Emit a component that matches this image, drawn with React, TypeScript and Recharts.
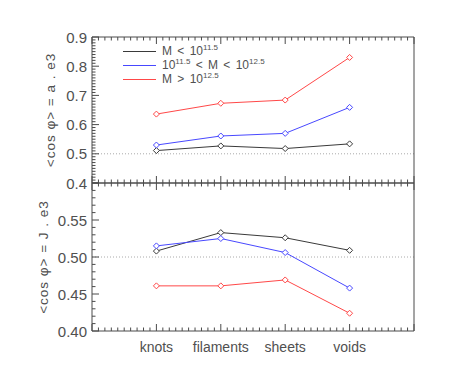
import { Legend, Line, LineChart, ReferenceLine, XAxis, YAxis } from "recharts";

// ── data ─────────────────────────────────────────────────────────
const categories = ["knots", "filaments", "sheets", "voids"];
const categoryPos = [1, 2, 3, 4];

// <cos phi> = a . e3 (upper panel)
const aLowMass = [0.511, 0.527, 0.518, 0.534];
const aMidMass = [0.53, 0.561, 0.57, 0.659];
const aHighMass = [0.636, 0.673, 0.684, 0.83];

// <cos phi> = J . e3 (lower panel)
const jLowMass = [0.508, 0.533, 0.526, 0.509];
const jMidMass = [0.515, 0.525, 0.506, 0.458];
const jHighMass = [0.461, 0.461, 0.469, 0.424];

const upperYLabels = ["0.4", "0.5", "0.6", "0.7", "0.8", "0.9"];
const lowerYLabels = ["0.40", "0.45", "0.50", "0.55"];

// ── style ────────────────────────────────────────────────────────
const FONT = '"Liberation Sans", Arial, Helvetica, sans-serif';
const TEXT_COLOR = "#505050";
const AXIS_COLOR = "#4a4a4a";
const BLACK = "#3a3a3a";
const BLUE = "#4848ff";
const RED = "#ff4848";

const rows = categories.map((name, i) => ({
	name,
	x: categoryPos[i],
	aLow: aLowMass[i],
	aMid: aMidMass[i],
	aHigh: aHighMass[i],
	jLow: jLowMass[i],
	jMid: jMidMass[i],
	jHigh: jHighMass[i],
}));

const legendItems = [
	{ color: BLACK, parts: [{ t: "M < 10" }, { sup: "11.5" }] },
	{ color: BLUE, parts: [{ t: "10" }, { sup: "11.5" }, { t: " < M < 10" }, { sup: "12.5" }] },
	{ color: RED, parts: [{ t: "M > 10" }, { sup: "12.5" }] },
];

/** evenly stepped tick values (axis only, not data) */
function stepTicks(from: number, to: number, step: number): number[] {
	const n = Math.round((to - from) / step);
	return Array.from({ length: n + 1 }, (_, i) => +(from + i * step).toFixed(4));
}

const xTicks = stepTicks(0, 5, 0.1);
const upperYTicks = stepTicks(0.4, 0.9, 0.01);
const lowerYTicks = stepTicks(0.4, 0.6, 0.01);

const isMultiple = (v: number, step: number) =>
	Math.abs(v / step - Math.round(v / step)) < 1e-6;

// ── axis ticks (IDL style, pointing inward) ──────────────────────
function makeYTick(side: "left" | "right", majorStep: number, labels: string[], digits: number) {
	return (props: any) => {
		const { x, y, payload } = props;
		const v: number = payload.value;
		const major = isMultiple(v, majorStep);
		const len = major ? 7 : 3.5;
		const dir = side === "left" ? 1 : -1;
		const text = v.toFixed(digits);
		return (
			<g>
				<line x1={x} y1={y} x2={x + dir * len} y2={y} stroke={AXIS_COLOR} strokeWidth={1} />
				{side === "left" && major && labels.includes(text) && (
					<text
						x={x - 5}
						y={y}
						textAnchor="end"
						dominantBaseline="central"
						fontFamily={FONT}
						fontSize={15}
						fill={TEXT_COLOR}
					>
						{text}
					</text>
				)}
			</g>
		);
	};
}

function makeXTick(side: "top" | "bottom", showLabels: boolean) {
	return (props: any) => {
		const { x, y, payload } = props;
		const v: number = payload.value;
		const major = isMultiple(v, 1);
		const len = major ? 7 : 3.5;
		const dir = side === "bottom" ? -1 : 1;
		const idx = major ? categoryPos.indexOf(Math.round(v)) : -1;
		return (
			<g>
				<line x1={x} y1={y} x2={x} y2={y + dir * len} stroke={AXIS_COLOR} strokeWidth={1} />
				{showLabels && idx >= 0 && (
					<text
						x={x}
						y={y + 16}
						textAnchor="middle"
						dominantBaseline="central"
						fontFamily={FONT}
						fontSize={14}
						fill={TEXT_COLOR}
					>
						{categories[idx]}
					</text>
				)}
			</g>
		);
	};
}

// 세로 축 제목
function AxisTitle(props: any) {
	const vb = props.viewBox ?? { x: 0, y: 0, width: 0, height: 0 };
	const cx = vb.x + props.centerX;
	const cy = vb.y + vb.height / 2;
	return (
		<text
			x={cx}
			y={cy}
			transform={`rotate(-90 ${cx} ${cy})`}
			textAnchor="middle"
			dominantBaseline="central"
			fontFamily={FONT}
			fontSize={13.5}
			letterSpacing={1}
			fill={TEXT_COLOR}
		>
			{props.caption}
		</text>
	);
}

function diamond(color: string) {
	return (props: any) => {
		const { cx, cy, index } = props;
		const r = 3;
		return (
			<path
				key={`d-${color}-${index}`}
				d={`M${cx},${cy - r}L${cx + r},${cy}L${cx},${cy + r}L${cx - r},${cy}Z`}
				fill="#fff"
				stroke={color}
				strokeWidth={1}
			/>
		);
	};
}

function MassLegend() {
	return (
		<div style={{ fontFamily: FONT, fontSize: 12, color: TEXT_COLOR, wordSpacing: 2 }}>
			{legendItems.map((item, i) => (
				<div key={i} style={{ display: "flex", alignItems: "center", height: 14, whiteSpace: "pre" }}>
					<svg width={33} height={4} style={{ marginRight: 6, flex: "none", display: "block" }}>
						<line x1={0} y1={2.5} x2={33} y2={2.5} stroke={item.color} strokeWidth={1} />
					</svg>
					<span>
						{item.parts.map((p, j) =>
							"sup" in p ? (
								<sup key={j} style={{ fontSize: 8, verticalAlign: "5px", lineHeight: 0 }}>
									{p.sup}
								</sup>
							) : (
								<span key={j}>{p.t}</span>
							),
						)}
					</span>
				</div>
			))}
		</div>
	);
}

function Panel({
	keys,
	domain,
	yTicks,
	yLabels,
	digits,
	majorStep,
	caption,
	captionX,
	margin,
	showCategoryLabels,
	showLegend,
}: {
	keys: string[];
	domain: [number, number];
	yTicks: number[];
	yLabels: string[];
	digits: number;
	majorStep: number;
	caption: string;
	captionX: number;
	margin: { top: number; right: number; bottom: number; left: number };
	showCategoryLabels: boolean;
	showLegend: boolean;
}) {
	const colors = [BLACK, BLUE, RED];
	return (
		<LineChart width={460} height={200} data={rows} margin={margin}>
			<XAxis
				xAxisId="b"
				dataKey="x"
				type="number"
				domain={[0, 5]}
				ticks={xTicks}
				interval={0}
				height={1}
				tickSize={0}
				tickMargin={0}
				tickLine={false}
				axisLine={{ stroke: AXIS_COLOR }}
				tick={makeXTick("bottom", showCategoryLabels)}
			/>
			<XAxis
				xAxisId="t"
				orientation="top"
				dataKey="x"
				type="number"
				domain={[0, 5]}
				ticks={xTicks}
				interval={0}
				height={1}
				tickSize={0}
				tickMargin={0}
				tickLine={false}
				axisLine={{ stroke: AXIS_COLOR }}
				tick={makeXTick("top", false)}
			/>
			<YAxis
				yAxisId="l"
				type="number"
				domain={domain}
				ticks={yTicks}
				interval={0}
				width={92}
				tickSize={0}
				tickMargin={0}
				tickLine={false}
				axisLine={{ stroke: AXIS_COLOR }}
				tick={makeYTick("left", majorStep, yLabels, digits)}
				label={<AxisTitle caption={caption} centerX={captionX} />}
			/>
			<YAxis
				yAxisId="r"
				orientation="right"
				type="number"
				domain={domain}
				ticks={yTicks}
				interval={0}
				width={1}
				tickSize={0}
				tickMargin={0}
				tickLine={false}
				axisLine={{ stroke: AXIS_COLOR }}
				tick={makeYTick("right", majorStep, yLabels, digits)}
			/>
			<ReferenceLine
				xAxisId="b"
				yAxisId="l"
				y={0.5}
				stroke="#aaa"
				strokeWidth={1}
				strokeDasharray="1 2"
			/>
			{keys.map((k, i) => (
				<Line
					key={k}
					xAxisId="b"
					yAxisId="l"
					dataKey={k}
					stroke={colors[i]}
					strokeWidth={1}
					dot={diamond(colors[i])}
					activeDot={false}
					isAnimationActive={false}
				/>
			))}
			{showLegend && (
				<Legend
					layout="horizontal"
					verticalAlign="middle"
					align="center"
					content={<MassLegend />}
					wrapperStyle={{ left: 123, top: 44, width: 220, height: 45 }}
				/>
			)}
		</LineChart>
	);
}

export default function App() {
	return (
		<div style={{ position: "absolute", left: 0, top: 0, width: 460, height: 368, background: "#fff" }}>
			<div style={{ position: "absolute", left: 0, top: 0 }}>
				<Panel
					keys={["aLow", "aMid", "aHigh"]}
					domain={[0.4, 0.9]}
					yTicks={upperYTicks}
					yLabels={upperYLabels}
					digits={1}
					majorStep={0.1}
					caption="<cos φ> = a . e3"
					captionX={50}
					margin={{ top: 36, right: 45, bottom: 16, left: 0 }}
					showCategoryLabels={false}
					showLegend={true}
				/>
			</div>
			<div style={{ position: "absolute", left: 0, top: 168 }}>
				<Panel
					keys={["jLow", "jMid", "jHigh"]}
					domain={[0.4, 0.6]}
					yTicks={lowerYTicks}
					yLabels={lowerYLabels}
					digits={2}
					majorStep={0.05}
					caption="<cos φ> = J . e3"
					captionX={43}
					margin={{ top: 14, right: 45, bottom: 36, left: 0 }}
					showCategoryLabels={true}
					showLegend={false}
				/>
			</div>
		</div>
	);
}
